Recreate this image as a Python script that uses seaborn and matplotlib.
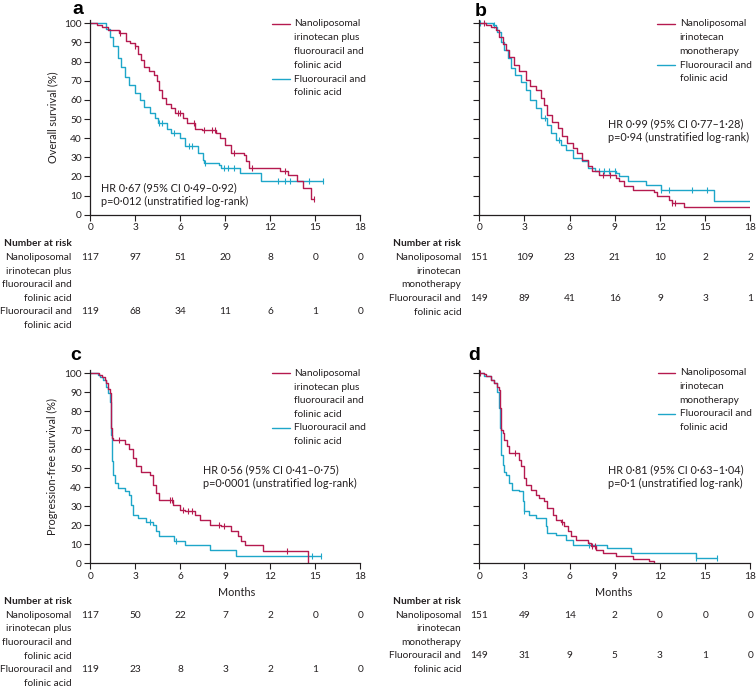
import numpy as np
import pandas as pd
import matplotlib
matplotlib.use("Agg")
import matplotlib.pyplot as plt
from matplotlib.lines import Line2D
from matplotlib.transforms import blended_transform_factory
import seaborn as sns

sns.set_theme(style="ticks")
plt.rcParams['font.family'] = ['Lato', 'DejaVu Sans']

RED = "#b51a4f"
TEAL = "#1ea6c9"
INK = "#231f20"

# ---------------- data ----------------
MONTH_TICKS = [0, 3, 6, 9, 12, 15, 18]
Y_TICKS = [0, 10, 20, 30, 40, 50, 60, 70, 80, 90, 100]

LBL_COMBO = "Nanoliposomal\nirinotecan plus\nfluorouracil and\nfolinic acid"
LBL_MONO = "Nanoliposomal\nirinotecan\nmonotherapy"
LBL_FU = "Fluorouracil and\nfolinic acid"

# Panel a: overall survival, combination vs 5-FU/LV
A_NAL_T = [0, 0.45, 0.75, 1.15, 1.9, 2.35, 2.65, 2.95, 3.15, 3.4, 3.6, 3.9, 4.25, 4.45, 4.6, 4.75, 5.05, 5.35,
           5.65, 6.15, 6.45, 6.95, 7.45, 8.35, 8.65, 8.95, 9.35, 10.25, 10.4, 10.6, 12.65, 13.15, 13.75, 14.15,
           14.7, 14.9]
A_NAL_S = [100, 99, 98, 96.5, 94.8, 91, 89.5, 88, 84, 81, 77, 75, 73, 70, 65, 61, 58, 56, 53, 50.4, 48, 45,
           44.3, 42.6, 40, 36.5, 32, 31, 28, 24.3, 22.6, 21, 17.4, 14, 8, 8]
A_NAL_CENS = [1.95, 2.95, 5.85, 6.0, 6.9, 7.6, 8.1, 8.3, 9.55, 10.8, 12.95, 14.9]
A_FU_T = [0, 1.05, 1.3, 1.5, 1.85, 2.05, 2.3, 2.6, 2.95, 3.3, 3.6, 3.95, 4.3, 4.5, 5.1, 5.4, 5.95, 6.3, 7.2,
          7.5, 7.6, 8.6, 8.7, 9.95, 11.4, 15.5]
A_FU_S = [100, 97, 93, 88, 82, 77, 72, 68, 63.5, 60, 56.5, 53, 50.4, 48, 45, 42.6, 40, 35.7, 32, 28.7, 27, 26,
          24.3, 21.7, 17.4, 17.4]
A_FU_CENS = [4.6, 4.75, 5.6, 6.6, 6.75, 7.65, 8.9, 9.2, 9.6, 12.5, 13.0, 13.3, 14.6, 15.5]
A_RISK_NAL = [117, 97, 51, 20, 8, 0, 0]
A_RISK_FU = [119, 68, 34, 11, 6, 1, 0]

# Panel b: overall survival, monotherapy vs 5-FU/LV
B_NAL_T = [0, 0.45, 0.75, 1.1, 1.33, 1.55, 1.77, 2.0, 2.3, 2.65, 3.1, 3.4, 3.75, 4.1, 4.3, 4.5, 4.85, 5.2, 5.5,
           5.85, 6.2, 6.5, 6.85, 7.2, 7.5, 7.95, 9.05, 9.3, 9.6, 10.2, 11.6, 11.8, 12.6, 12.8, 13.6, 18.0]
B_NAL_S = [100, 99, 98, 96.5, 93, 89, 86, 82.6, 78, 75, 70.4, 67, 65, 61, 57.4, 52, 48.7, 45.2, 41, 37.4, 34.8,
           32, 28.7, 25.2, 22.6, 20.9, 19.1, 17.4, 14.8, 13, 11.8, 9.6, 7.8, 6.1, 3.8, 3.8]
B_NAL_CENS = [0.3, 8.2, 8.7, 12.8, 13.0]
B_FU_T = [0, 0.9, 1.1, 1.2, 1.45, 1.65, 1.9, 2.1, 2.4, 2.75, 3.1, 3.4, 3.75, 4.1, 4.5, 4.75, 5.1, 5.4, 5.75,
          6.2, 6.85, 7.2, 7.7, 9.05, 9.3, 9.85, 11.05, 12.05, 15.6, 18.0]
B_FU_S = [100, 99, 98, 95.7, 90.4, 86, 81.7, 76.5, 73, 69.6, 65.2, 60, 55.7, 50.4, 47, 42.6, 39, 36.5, 34, 29.6,
          27.8, 24.3, 23, 21.7, 20, 17.4, 15.7, 13, 7, 7]
B_FU_CENS = [0.05, 1.0, 4.35, 5.3, 7.95, 8.3, 8.6, 9.0, 12.1, 12.6, 14.1, 15.1]
B_RISK_NAL = [151, 109, 23, 21, 10, 2, 2]
B_RISK_FU = [149, 89, 41, 16, 9, 3, 1]

# Panel c: progression-free survival, combination vs 5-FU/LV
C_NAL_T = [0, 0.6, 0.8, 0.96, 1.07, 1.18, 1.29, 1.36, 1.4, 1.44, 1.51, 2.3, 2.6, 2.84, 3.07, 3.4, 3.96, 4.2,
           4.4, 4.6, 5.5, 5.96, 6.3, 6.96, 7.3, 7.96, 8.7, 9.4, 9.84, 10.07, 10.3, 11.5, 14.5]
C_NAL_S = [100, 99, 98, 96.5, 94.7, 92, 89.5, 83, 71, 66, 65, 63, 60, 55.3, 51, 48.3, 46.6, 41.3, 37, 33.5,
           30.8, 28.2, 27.3, 25.6, 23, 20.3, 19.4, 16.8, 14.2, 11.6, 9.8, 6.3, 0]
C_NAL_CENS = [1.9, 5.3, 5.45, 6.2, 6.5, 6.8, 8.6, 8.9, 13.1]
C_FU_T = [0, 0.5, 0.62, 0.84, 1.07, 1.18, 1.33, 1.4, 1.44, 1.51, 1.62, 1.84, 2.29, 2.6, 2.73, 2.84, 3.18, 3.73,
          4.18, 4.4, 4.6, 5.6, 6.3, 8.0, 9.7, 15.4]
C_FU_S = [100, 99, 98, 96.5, 93, 89.5, 85, 67.6, 53.6, 46.6, 42.2, 39.6, 37.8, 36, 30.8, 25.6, 23.8, 22, 20.3,
          16.8, 14.2, 11.6, 9.5, 7, 4, 4]
C_FU_CENS = [4.0, 5.7, 14.8, 15.4]
C_RISK_NAL = [117, 50, 22, 7, 2, 0, 0]
C_RISK_FU = [119, 23, 8, 3, 2, 1, 0]

# Panel d: progression-free survival, monotherapy vs 5-FU/LV
D_NAL_T = [0, 0.3, 0.44, 0.77, 1.0, 1.2, 1.33, 1.4, 1.46, 1.55, 1.66, 1.81, 2.0, 2.65, 2.8, 2.94, 3.1, 3.43,
           3.76, 3.98, 4.3, 4.5, 4.87, 5.1, 5.45, 5.64, 5.86, 6.08, 6.4, 7.2, 7.4, 7.74, 8.2, 9.07, 10.2, 11.3,
           11.6]
D_NAL_S = [100, 99.5, 98.8, 96.5, 94.7, 93, 91.2, 81.6, 70.2, 68.5, 65, 61.5, 58, 54.5, 51, 44.8, 41.3, 38.7,
           36, 34.3, 32.6, 29, 25.6, 23, 22, 19.4, 16.8, 14.2, 12.4, 10.7, 8.9, 7.2, 5.4, 3.7, 2.3, 1.1, 0]
D_NAL_CENS = [0.05, 2.4, 5.5, 7.5, 7.7]
D_FU_T = [0, 0.3, 0.77, 1.0, 1.15, 1.28, 1.37, 1.44, 1.55, 1.66, 1.77, 2.0, 2.2, 2.65, 2.88, 3.0, 3.3, 3.76,
          4.4, 4.5, 5.1, 5.75, 6.2, 8.5, 10.1, 14.4, 15.8]
D_FU_S = [100, 98.8, 96.5, 94.7, 90.4, 81.6, 71, 57, 51.8, 48.3, 46.6, 42.2, 38.7, 37.8, 32.6, 27.3, 25.6,
          23.8, 19.4, 15.9, 15, 12.4, 9.8, 8, 5.4, 2.8, 2.8]
D_FU_CENS = [3.0, 7.3, 14.4, 15.8]
D_RISK_NAL = [151, 49, 14, 2, 0, 0, 0]
D_RISK_FU = [149, 31, 9, 5, 3, 1, 0]

HR_TEXT = {
    "a": ["HR 0·67 (95% CI 0·49–0·92)", "p=0·012 (unstratified log-rank)"],
    "b": ["HR 0·99 (95% CI 0·77–1·28)", "p=0·94 (unstratified log-rank)"],
    "c": ["HR 0·56 (95% CI 0·41–0·75)", "p=0·0001 (unstratified log-rank)"],
    "d": ["HR 0·81 (95% CI 0·63–1·04)", "p=0·1 (unstratified log-rank)"],
}

# ---------------- figure ----------------
W, H = 756, 688
fig = plt.figure(figsize=(W / 100, H / 100), dpi=100)
FS = 7.3
FS_HR = 7.8
LS = 13.8  # line spacing in pixels


def fx(px):
    return px / W


def fy(py):
    return 1 - py / H


def ftext(xpx, ypx, s, size=FS, **kw):
    """multi-line text: each line centred at ypx + i*LS"""
    for i, line in enumerate(s.split("\n")):
        fig.text(fx(xpx), fy(ypx + i * LS), line, va="center", fontsize=size, color=INK, **kw)


def draw_km(ax, t, s, cens, color):
    df = pd.DataFrame({"t": t, "s": s})
    sns.lineplot(data=df, x="t", y="s", estimator=None, sort=False, drawstyle="steps-post",
                 color=color, lw=1.0, ax=ax, legend=False)
    t_arr = np.asarray(t)
    s_arr = np.asarray(s)
    idx = np.clip(np.searchsorted(t_arr, cens, side="right") - 1, 0, len(s_arr) - 1)
    ax.plot(cens, s_arr[idx], ls="none", marker="|", ms=4.5, mew=0.8, color=color, clip_on=False)


def style_axes(ax, show_ylabels, ylabel=None, ylabel_y=0.5):
    ax.set_xlim(0, 18)
    ax.set_ylim(0, 102)
    ax.set_xticks(MONTH_TICKS)
    ax.set_yticks(Y_TICKS)
    if not show_ylabels:
        ax.set_yticklabels([])
    sns.despine(ax=ax)
    for sp in ("left", "bottom"):
        ax.spines[sp].set_color(INK)
        ax.spines[sp].set_linewidth(0.9)
    ax.tick_params(axis="both", direction="out", length=4, width=0.8, color=INK,
                   labelsize=FS, labelcolor=INK, pad=2)
    ax.set_xlabel("")
    if ylabel:
        ax.set_ylabel(ylabel, fontsize=FS_HR, color=INK)
        ax.yaxis.set_label_coords(-0.139, ylabel_y)
        ax.yaxis.label.set_va("center")
    else:
        ax.set_ylabel("")


# axes positions in figure pixels
AX_LEFT = {"a": 90.3, "b": 479.3, "c": 90.3, "d": 479.3}
AX_WIDTH = {"a": 270, "b": 271, "c": 270, "d": 271}
AX_BOT = {"a": 214.7, "b": 214.7, "c": 563.3, "d": 563.3}
AX_TOP = {"a": 19.5, "b": 19.5, "c": 369.5, "d": 369.5}

axes = {}
for k in "abcd":
    axes[k] = fig.add_axes([fx(AX_LEFT[k]), fy(AX_BOT[k]), AX_WIDTH[k] / W, (AX_BOT[k] - AX_TOP[k]) / H])

panels = {
    "a": (A_NAL_T, A_NAL_S, A_NAL_CENS, A_FU_T, A_FU_S, A_FU_CENS, A_RISK_NAL, A_RISK_FU, LBL_COMBO),
    "b": (B_NAL_T, B_NAL_S, B_NAL_CENS, B_FU_T, B_FU_S, B_FU_CENS, B_RISK_NAL, B_RISK_FU, LBL_MONO),
    "c": (C_NAL_T, C_NAL_S, C_NAL_CENS, C_FU_T, C_FU_S, C_FU_CENS, C_RISK_NAL, C_RISK_FU, LBL_COMBO),
    "d": (D_NAL_T, D_NAL_S, D_NAL_CENS, D_FU_T, D_FU_S, D_FU_CENS, D_RISK_NAL, D_RISK_FU, LBL_MONO),
}

for k, (nt, ns, nc, ft, fs_, fc, rn, rf, lbl) in panels.items():
    ax = axes[k]
    draw_km(ax, ft, fs_, fc, TEAL)
    draw_km(ax, nt, ns, nc, RED)
    ylabel = {"a": "Overall survival (%)", "c": "Progression-free survival (%)"}.get(k)
    style_axes(ax, k in "ac", ylabel)

# months labels
for k, xfrac in (("c", 0.542), ("d", 0.497)):
    ax = axes[k]
    ax.set_xlabel("Months", fontsize=FS_HR, color=INK)
    ax.xaxis.set_label_coords(xfrac, (AX_BOT[k] - 593) / (AX_BOT[k] - AX_TOP[k]))
    ax.xaxis.label.set_va("center")

# panel letters
for k, (xp, yp) in {"a": (72.5, 14), "b": (474.5, 16), "c": (70, 360), "d": (468.5, 360.5)}.items():
    fig.text(fx(xp), fy(yp), k, fontsize=14, fontweight="bold", color="black",
             family=["Liberation Sans", "DejaVu Sans"], va="baseline", ha="left")

# legends
LEG = {
    "a": dict(x0=272, x1=290, xt=294, y1=24, y2=79),
    "b": dict(x0=657, x1=675, xt=679.7, y1=24, y2=65),
    "c": dict(x0=272, x1=290, xt=294, y1=373.3, y2=427.7),
    "d": dict(x0=658, x1=675.3, xt=679.7, y1=372.7, y2=414),
}
for k, L in LEG.items():
    lbl = panels[k][8]
    for col, yy, text in ((RED, L["y1"], lbl), (TEAL, L["y2"], LBL_FU)):
        fig.add_artist(Line2D([fx(L["x0"]), fx(L["x1"])], [fy(yy), fy(yy)], color=col, lw=1.0))
        ftext(L["xt"], yy, text, ha="left")

# HR annotations
HR_POS = {"a": (100.7, 187.7), "b": (608, 123.3), "c": (202.7, 470), "d": (608, 470)}
for k, (xp, yp) in HR_POS.items():
    ftext(xp, yp, "\n".join(HR_TEXT[k]), size=FS_HR, ha="left")

# number at risk tables
RISK = {
    "a": dict(xr=71.7, yh=243.3, y1=257.3, y2=311.7),
    "b": dict(xr=461.3, yh=243.3, y1=257.3, y2=298.3),
    "c": dict(xr=71.7, yh=601, y1=615, y2=670),
    "d": dict(xr=461.3, yh=601, y1=615, y2=655.7),
}
for k, R in RISK.items():
    ax = axes[k]
    rn, rf, lbl = panels[k][6], panels[k][7], panels[k][8]
    fig.text(fx(R["xr"]), fy(R["yh"]), "Number at risk", ha="right", va="center", fontsize=FS,
             fontweight="bold", color=INK)
    ftext(R["xr"], R["y1"], lbl, ha="right")
    ftext(R["xr"], R["y2"], LBL_FU, ha="right")
    tr = blended_transform_factory(ax.transData, fig.transFigure)
    for m, v1, v2 in zip(MONTH_TICKS, rn, rf):
        ax.text(m, fy(R["y1"]), str(v1), transform=tr, ha="center", va="center", fontsize=FS, color=INK)
        ax.text(m, fy(R["y2"]), str(v2), transform=tr, ha="center", va="center", fontsize=FS, color=INK)

fig.savefig("out.png", dpi=100, facecolor="white")
